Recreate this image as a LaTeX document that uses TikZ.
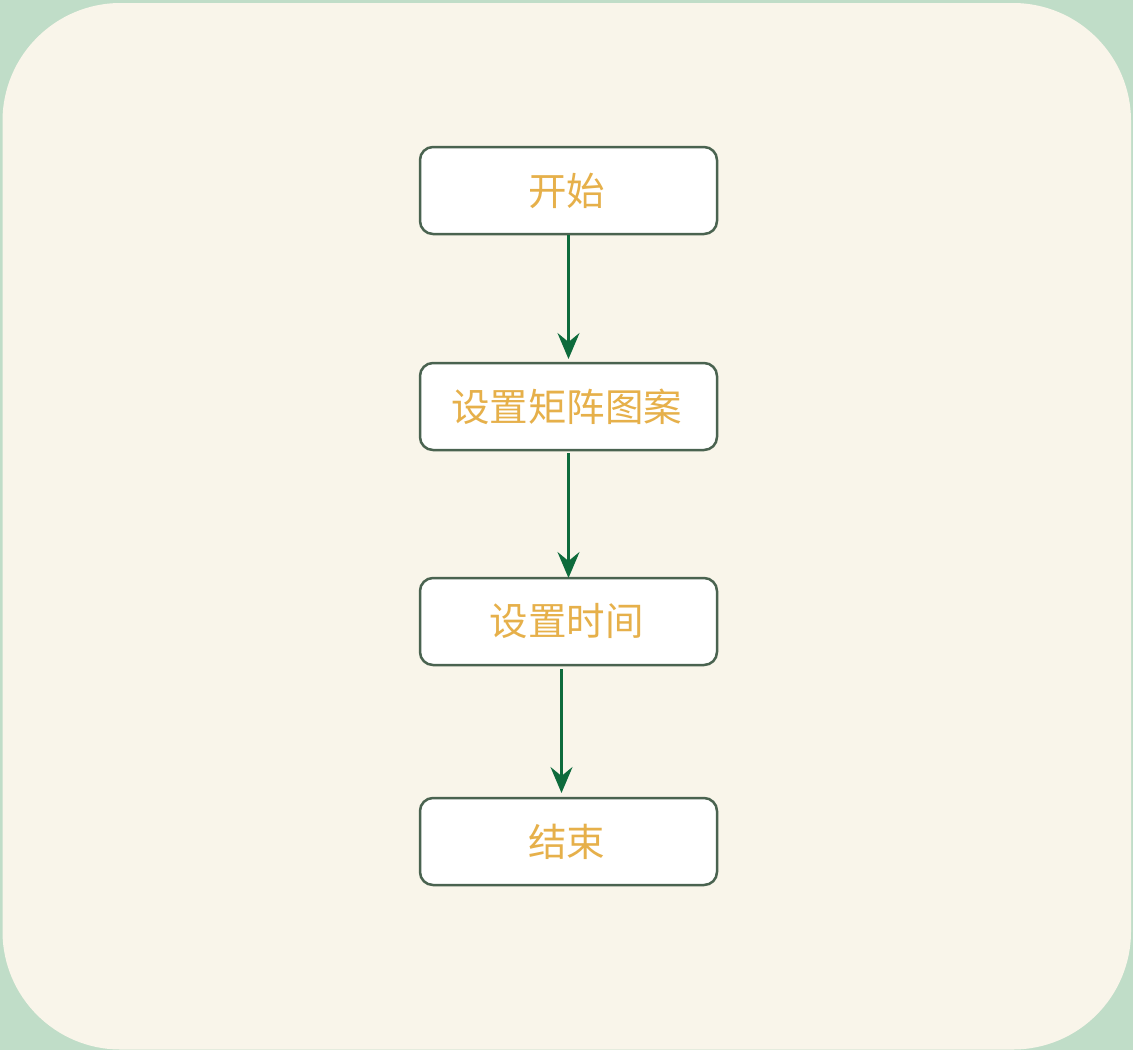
\documentclass[tikz,border=0pt]{standalone}
\usepackage{fontspec}
\newfontfamily\cjk{Noto Sans CJK SC}
\usetikzlibrary{arrows.meta}
\definecolor{outerbg}{HTML}{C0DDC8}
\definecolor{innerbg}{HTML}{F9F5EA}
\definecolor{boxline}{HTML}{4A6350}
\definecolor{txt}{HTML}{E6B04A}
\definecolor{arr}{HTML}{0E6B3C}
\tikzset{
  stepbox/.style={draw=boxline, line width=2.5pt, fill=white, rounded corners=13pt,
    minimum width=297pt, minimum height=87pt, inner sep=0pt,
    font=\cjk\fontsize{38.5}{40}\selectfont, text=txt},
  flow/.style={draw=arr, line width=2.5pt, -{Stealth[length=26pt,width=22pt,inset=9pt]}}
}
\newcommand\boxtext[1]{\raisebox{-2pt}{#1}\hspace*{4pt}}
\begin{document}
\begin{tikzpicture}[x=1pt,y=-1pt]
\useasboundingbox (0,0) rectangle (1133,1050);
\fill[outerbg] (0,0) rectangle (1133,1050);
\fill[innerbg, rounded corners=118pt] (2.5,3) rectangle (1131,1049.5);
\node[stepbox] (a) at (568.5,190.5) {\boxtext{开始}};
\node[stepbox] (b) at (568.5,406.5) {\boxtext{设置矩阵图案}};
\node[stepbox] (c) at (568.5,621.5) {\boxtext{设置时间}};
\node[stepbox] (d) at (568.5,841.5) {\boxtext{结束}};
\coordinate (c1) at (568.5,359);
\coordinate (b1) at (568.5,453);
\coordinate (b2) at (568.5,578);
\coordinate (c3) at (561.5,669);
\coordinate (d3) at (561.5,793);
\draw[flow] (a.south) -- (c1);
\draw[flow] (b1) -- (b2);
\draw[flow] (c3) -- (d3);
\end{tikzpicture}
\end{document}
